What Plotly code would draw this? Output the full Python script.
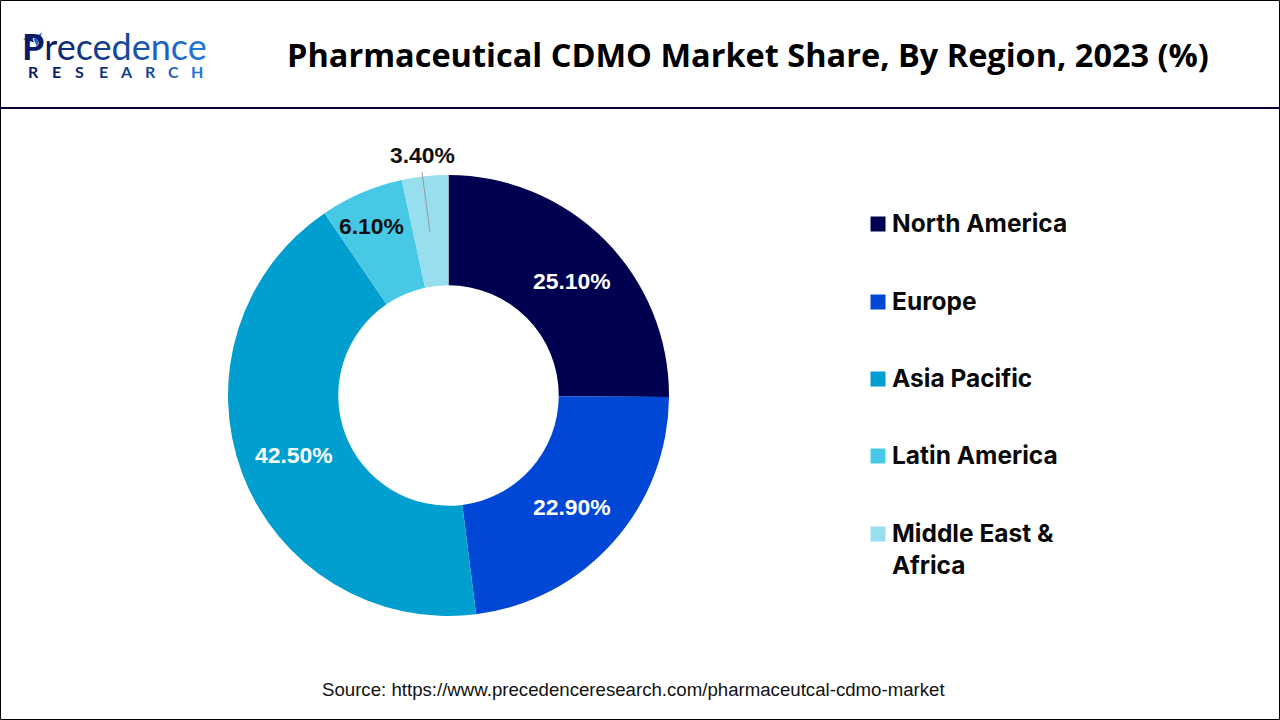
import plotly.graph_objects as go

regions = ["North America", "Europe", "Asia Pacific", "Latin America", "Middle East &<br>Africa"]
shares = [25.1, 22.9, 42.5, 6.1, 3.4]
colors = ["#000050", "#0047D6", "#009FD0", "#47C9E5", "#97DFEF"]
label_colors = ["white", "white", "white", "#111111", "#111111"]
label_xy = [(572, 280.5), (572, 506.5), (294, 454.5), (371, 225.5), (422, 154.5)]
legend_y = [223, 301, 378, 455, 549]
logo_word = "Precedence"
logo_word_colors = ["#0B1B66", "#0B1B66", "#0F2A78", "#12357F", "#143F8C", "#164A9A", "#1854A8", "#1C62BE", "#1E6ACC", "#2074DA"]
logo_sub = "RESEARCH"
logo_sub_colors = ["#0B1B66", "#0B1B66", "#0F2A78", "#12357F", "#143F8C", "#164A9A", "#1C62BE", "#2074DA"]

W, H = 1280, 720
px = lambda x: x / W
py = lambda y: 1 - y / H

fig = go.Figure(go.Pie(
    labels=[r.replace("<br>", " ") for r in regions],
    values=shares,
    hole=0.5,
    sort=False,
    direction="clockwise",
    rotation=0,
    marker=dict(colors=colors, line=dict(width=0)),
    textinfo="none",
    hoverinfo="label+percent",
    showlegend=False,
    domain=dict(x=[px(228), px(669)], y=[py(616), py(175)]),
))

ann = []
shapes = []


def add_text(x, y, text, size, color, family, anchor="center"):
    ann.append(dict(x=px(x), y=py(y), xref="paper", yref="paper", text=text, showarrow=False,
                    xanchor=anchor, yanchor="middle", align="left",
                    font=dict(size=size, color=color, family=family)))


add_text(748, 54.5, "<b>Pharmaceutical CDMO Market Share, By Region, 2023 (%)</b>", 32.5, "#000000", "Open Sans")
add_text(633, 689, "Source: https://www.precedenceresearch.com/pharmaceutcal-cdmo-market", 18.65, "#111111", "Liberation Sans")

for v, c, (x, y) in zip(shares, label_colors, label_xy):
    add_text(x, y, f"<b>{v:.2f}%</b>", 22.9, c, "Liberation Sans")

for name, y in zip(regions, legend_y):
    add_text(890, y, f"<b>{name}</b>", 24.5, "#0a0a0a", "Inter", anchor="left")

for c, y in zip(colors, [224, 302, 379, 456, 534]):
    shapes.append(dict(type="rect", xref="paper", yref="paper", x0=px(870.5), x1=px(885.5), y0=py(y - 7.5), y1=py(y + 7.5),
                       fillcolor=c, line=dict(width=0), layer="above"))

# logo
logo = "".join(
    f'<span style="color:{c}">{"<b>" + ch + "</b>" if i == 0 else ch}</span>'
    for i, (ch, c) in enumerate(zip(logo_word, logo_word_colors)))
add_text(114, 46, logo, 36, "#0B1B66", "Lato")
for i, (ch, c) in enumerate(zip(logo_sub, logo_sub_colors)):
    add_text(33 + i * 23.4, 71.5, f"<b>{ch}</b>", 16, c, "Lato")


def tri(a, b, c):
    return "M{} {} L{} {} L{} {} Z".format(px(a[0]), py(a[1]), px(b[0]), py(b[1]), px(c[0]), py(c[1]))


shapes += [
    dict(type="path", xref="paper", yref="paper", path=tri((23, 39), (36, 36), (36, 43)), fillcolor="#0B1B66",
         line=dict(width=0), layer="above"),
    dict(type="path", xref="paper", yref="paper", path=tri((43, 31), (33, 39), (37, 48)), fillcolor="#1E6ACC",
         line=dict(color="white", width=1), layer="above"),
]

# frame, header rule, leader line
shapes += [
    dict(type="rect", xref="paper", yref="paper", x0=px(0.5), x1=px(1279.5), y0=py(719.5), y1=py(0.5),
         line=dict(color="#000000", width=1), fillcolor="rgba(0,0,0,0)"),
    dict(type="line", xref="paper", yref="paper", x0=0, x1=1, y0=py(108), y1=py(108),
         line=dict(color="#050535", width=2)),
    dict(type="line", xref="paper", yref="paper", x0=px(422), x1=px(430), y0=py(172), y1=py(232),
         line=dict(color="#9a9a9a", width=1), layer="above"),
]

fig.update_layout(width=W, height=H, margin=dict(l=0, r=0, t=0, b=0), paper_bgcolor="white",
                  annotations=ann, shapes=shapes)
fig.write_html("out.html", config=dict(displayModeBar=False),
               post_script="document.body.style.margin='0';document.documentElement.style.overflow='hidden';")
